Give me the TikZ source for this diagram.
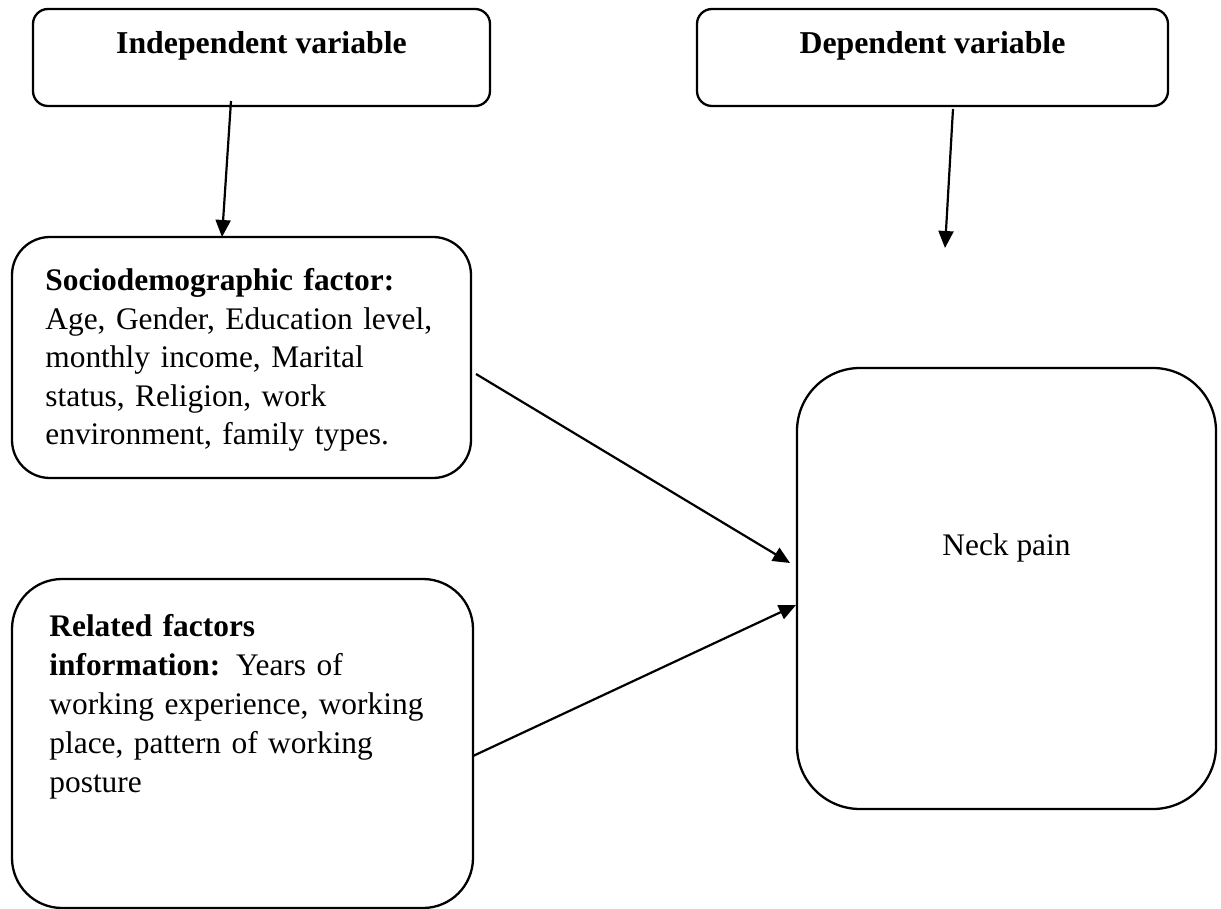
\documentclass[tikz,border=0pt]{standalone}
\usepackage{fontspec}
\setmainfont{Liberation Serif}
\usetikzlibrary{arrows.meta,positioning,calc}

\begin{document}
\begin{tikzpicture}[x=0.5pt, y=-0.5pt,
    var_box/.style={draw, line width=1.15pt, rounded corners=7.5pt, inner sep=0pt, outer sep=0pt, minimum height=48.5pt},
    factor_box/.style={draw, line width=1.15pt, inner sep=0pt, outer sep=0pt},
    box_text/.style={inner sep=0pt, font=\fontsize{15.7}{19.2}\selectfont},
    head_text/.style={box_text, font=\fontsize{15.9}{19.2}\selectfont\bfseries, anchor=base},
    list_text/.style={box_text, align=left, text width=220pt, anchor=base west},
    link/.style={draw, line width=1.1pt, -{Triangle[length=8.5pt, width=7.5pt]}}
]

% Page frame
\useasboundingbox[fill=white] (0,0) rectangle (1221,909);

% Variable headings
\node[var_box, minimum width=228.5pt] (indep) at (261.5,57.5) {};
\node[head_text] (indeptext) at (261.5,54) {Independent variable};
\node[var_box, minimum width=235.5pt] (dep) at (932.5,57.5) {};
\node[head_text] (deptext) at (932.5,54) {Dependent variable};

% Factor boxes
\node[factor_box, rounded corners=19pt, minimum width=229.5pt, minimum height=120.5pt] (socio) at (241.5,357.5) {};
\node[list_text] (sociotext) at (45,291) {\textbf{Sociodemographic factor:}\\
Age, Gender, Education level,\\
monthly income, Marital\\
status, Religion, work\\
environment, family types.};

\node[factor_box, rounded corners=25pt, minimum width=230.5pt, minimum height=164.5pt] (related) at (242.5,743.5) {};
\node[list_text, font=\fontsize{15.7}{19.5}\selectfont] (relatedtext) at (49,636) {\textbf{Related factors}\\
\textbf{information:} Years of\\
working experience, working\\
place, pattern of working\\
posture};

% Outcome box
\node[factor_box, rounded corners=31.5pt, minimum width=209.5pt, minimum height=220.5pt] (neck) at (1006.5,588.5) {};
\node[box_text, anchor=base] (necktext) at (1006.5,555) {Neck pain};

% Connections
\coordinate (depend) at (945,248);
\draw[link] ($(indep.south)+(-30.5,-5)$) -- ($(socio.north)+(-19.5,0)$);
\draw[link] ($(dep.south)+(20.5,3)$) -- (depend);
\draw[link] ($(socio.east)+(5,16.5)$) -- ($(neck.west)+(-7,-25.5)$);
\draw[link] ($(related.east)+(0,12.5)$) -- ($(neck.west)+(-1,16.5)$);

\end{tikzpicture}
\end{document}
